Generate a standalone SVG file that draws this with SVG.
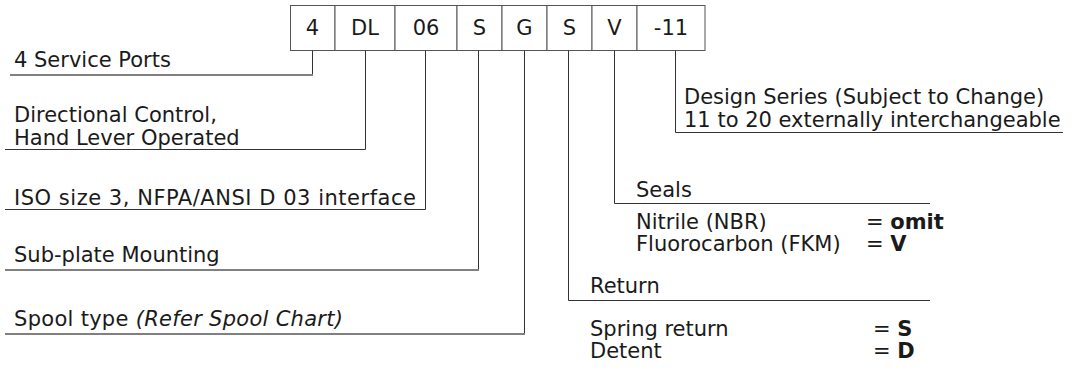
<svg xmlns="http://www.w3.org/2000/svg" width="1086" height="389" viewBox="0 0 1086 389">
<style>
text{font-family:"DejaVu Sans",Verdana,sans-serif;font-size:21px;fill:#1a1a1a}
.bx{fill:#fff;stroke:#555;stroke-width:1}
.bt{text-anchor:middle}
.ln{stroke:#333;stroke-width:1;fill:none}
.lg{stroke:#808080;stroke-width:2;fill:none}
.b{font-weight:bold}
.i{font-style:italic}
</style>
<rect width="1086" height="389" fill="#fff"/>
<g id="code">
<rect class="bx" x="290.5" y="5.5" width="44.5" height="45"/>
<rect class="bx" x="335" y="5.5" width="60" height="45"/>
<rect class="bx" x="395" y="5.5" width="62" height="45"/>
<rect class="bx" x="457" y="5.5" width="45" height="45"/>
<rect class="bx" x="502" y="5.5" width="45" height="45"/>
<rect class="bx" x="547" y="5.5" width="45" height="45"/>
<rect class="bx" x="592" y="5.5" width="45" height="45"/>
<rect class="bx" x="637" y="5.5" width="68" height="45"/>
<text class="bt" x="312.5" y="35">4</text>
<text class="bt" x="365" y="35">DL</text>
<text class="bt" x="426" y="35">06</text>
<text class="bt" x="479.5" y="35">S</text>
<text class="bt" x="524.5" y="35">G</text>
<text class="bt" x="569.5" y="35">S</text>
<text class="bt" x="614.5" y="35">V</text>
<text class="bt" x="671" y="35">-11</text>
</g>
<g id="connectors">
<polyline class="ln" points="312.5,50.5 312.5,75"/>
<line class="lg" x1="10" y1="75" x2="313" y2="75"/>
<polyline class="ln" points="365.5,50.5 365.5,149.5 5,149.5"/>
<polyline class="ln" points="425.5,50.5 425.5,209.5 5,209.5"/>
<polyline class="ln" points="478.5,50.5 478.5,270"/>
<line class="lg" x1="5" y1="270" x2="479" y2="270"/>
<polyline class="ln" points="524.5,50.5 524.5,334"/>
<line class="lg" x1="5" y1="334" x2="525" y2="334"/>
<polyline class="ln" points="568.5,50.5 568.5,300.5 930,300.5"/>
<polyline class="ln" points="614.5,50.5 614.5,203.5 930,203.5"/>
<polyline class="ln" points="675.5,50.5 675.5,132.5 1063,132.5"/>
</g>
<g id="n-ports"><text x="14" y="67">4 Service Ports</text></g>
<g id="n-control"><text x="14" y="122">Directional Control,</text><text x="14" y="145">Hand Lever Operated</text></g>
<g id="n-size"><text x="14" y="205" textLength="402" lengthAdjust="spacing">ISO size 3, NFPA/ANSI D 03 interface</text></g>
<g id="n-mount"><text x="14" y="262">Sub-plate Mounting</text></g>
<g id="n-spool"><text x="14" y="326" textLength="329" lengthAdjust="spacing">Spool type <tspan class="i">(Refer Spool Chart)</tspan></text></g>
<g id="n-design"><text x="684" y="104">Design Series (Subject to Change)</text><text x="684" y="127">11 to 20 externally interchangeable</text></g>
<g id="n-seals"><text x="636" y="197">Seals</text><text x="636" y="229">Nitrile (NBR)</text><text x="636" y="251">Fluorocarbon (FKM)</text><text x="866" y="229">= <tspan class="b">omit</tspan></text><text x="866" y="251">= <tspan class="b">V</tspan></text></g>
<g id="n-return"><text x="590" y="293">Return</text><text x="590" y="336">Spring return</text><text x="590" y="358">Detent</text><text x="873" y="336">= <tspan class="b">S</tspan></text><text x="873" y="358">= <tspan class="b">D</tspan></text></g>
</svg>
